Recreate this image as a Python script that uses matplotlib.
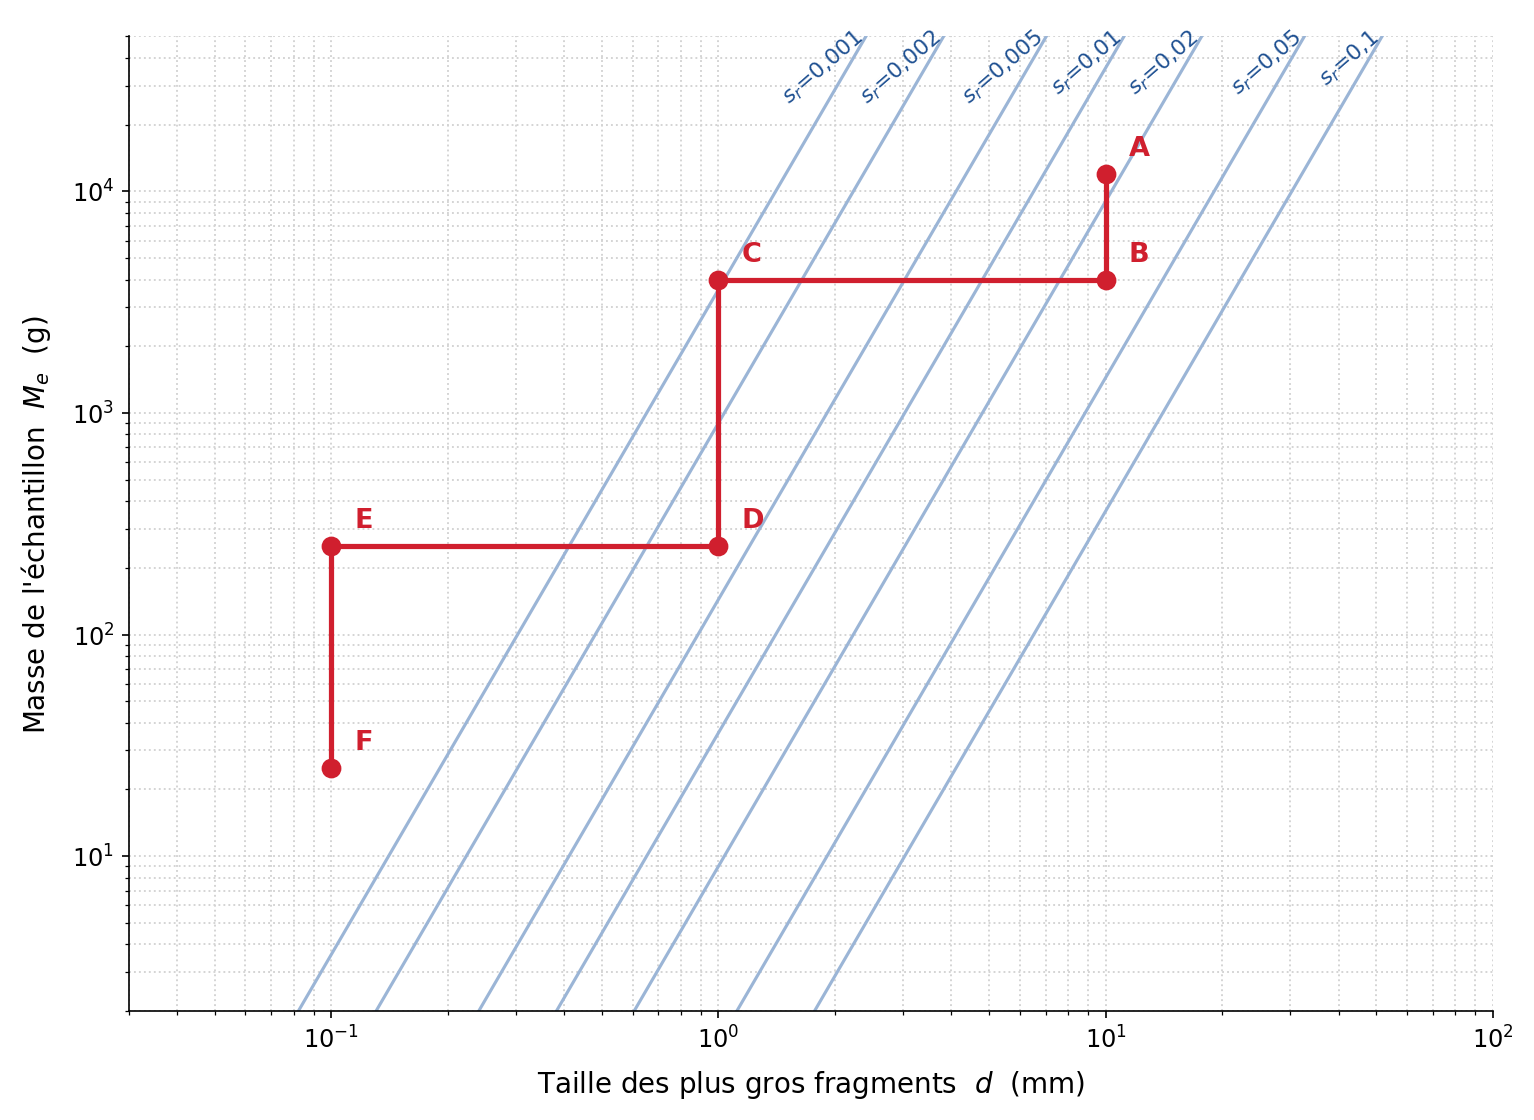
import numpy as np
import matplotlib
matplotlib.use('Agg')
import matplotlib.pyplot as plt

# Gy abacus: M = C * d^3 / sr^2
sr_values = [0.001, 0.002, 0.005, 0.01, 0.02, 0.05, 0.1]
sr_labels = ['0,001', '0,002', '0,005', '0,01', '0,02', '0,05', '0,1']
gy_const = 3.6e-3

# reduction path
pt_names = ['A', 'B', 'C', 'D', 'E', 'F']
pt_d = [10, 10, 1, 1, 0.1, 0.1]
pt_m = [12000, 4000, 4000, 250, 250, 25]

xlim = (0.03, 100)
ylim = (2, 5e4)

red = '#d01f2e'
blue_line = '#9bb5d6'
blue_txt = '#1d4f91'

fig = plt.figure(figsize=(10.23, 7.47), dpi=150)
ax = fig.add_axes([0.084, 0.0972, 0.8887, 0.8698])
ax.set_xscale('log')
ax.set_yscale('log')
ax.set_xlim(*xlim)
ax.set_ylim(*ylim)

ax.grid(True, which='both', linestyle=':', color='#d3d3d3', linewidth=0.9)
ax.set_axisbelow(True)

d = np.logspace(np.log10(xlim[0]), np.log10(xlim[1]), 400)
for sr, lab in zip(sr_values, sr_labels):
    m = gy_const * d ** 3 / sr ** 2
    ax.plot(d, m, color=blue_line, linewidth=1.5, zorder=2)
    d_top = (ylim[1] * sr ** 2 / gy_const) ** (1 / 3)
    ax.annotate(f'$s_r$=' + lab, xy=(d_top, ylim[1]), xytext=(-0.8, -1.5),
                textcoords='offset points', ha='right', va='baseline',
                rotation=41, rotation_mode='anchor',
                color=blue_txt, fontsize=10.5, annotation_clip=False)

ax.plot(pt_d, pt_m, color=red, linewidth=2.5, marker='o', markersize=8.5, zorder=4)
for name, x, y in zip(pt_names, pt_d, pt_m):
    ax.annotate(name, xy=(x, y), xytext=(11, 6), textcoords='offset points',
                color=red, fontsize=13, fontweight='bold', ha='left', va='bottom')

ax.spines['top'].set_visible(False)
ax.spines['right'].set_visible(False)
ax.tick_params(labelsize=11.5)
ax.set_xlabel("Taille des plus gros fragments  $d$  (mm)", fontsize=13.3, labelpad=7.5)
ax.set_ylabel("Masse de l'échantillon  $M_e$  (g)", fontsize=13.3, labelpad=9)

fig.savefig('out.png', dpi=150)
